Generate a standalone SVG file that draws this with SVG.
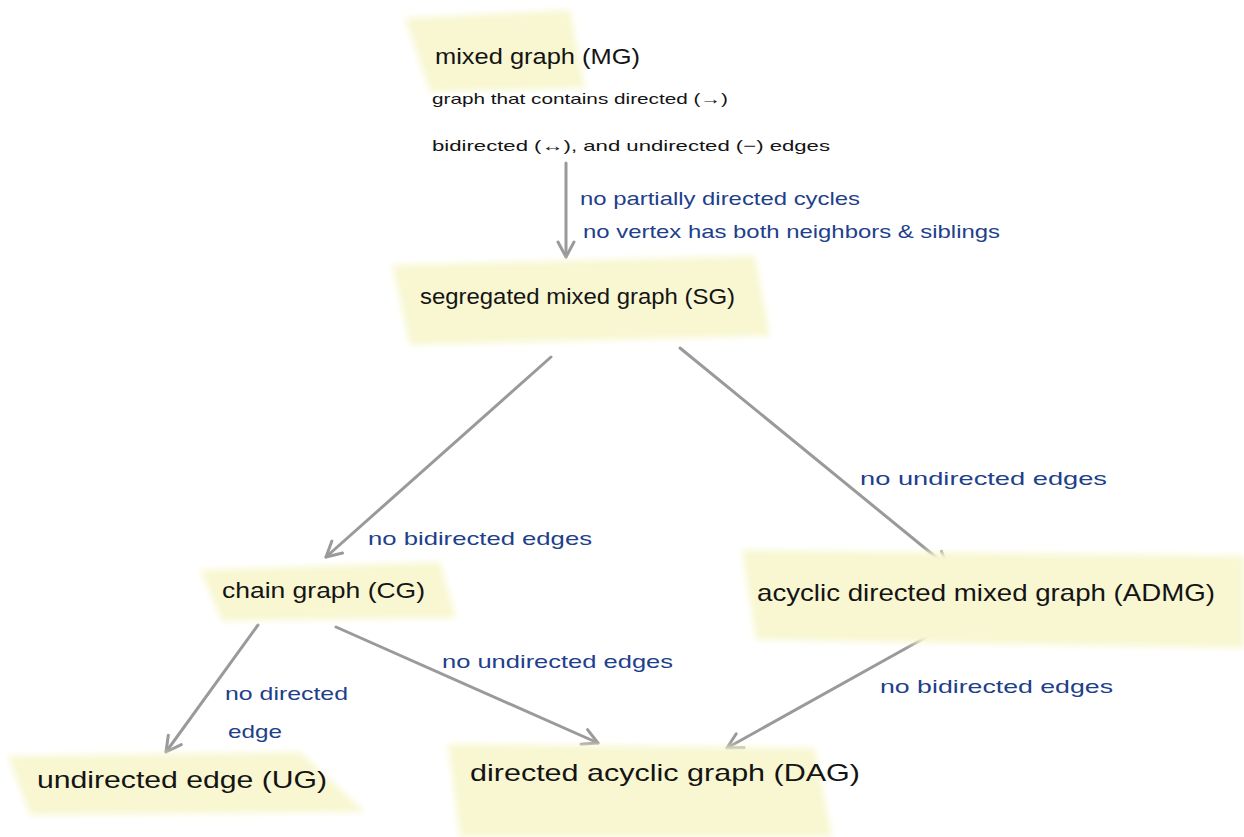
<svg xmlns="http://www.w3.org/2000/svg" width="1244" height="837" viewBox="0 0 1244 837">
<defs>
<filter id="soft" x="-10%" y="-20%" width="120%" height="140%"><feGaussianBlur stdDeviation="3"/></filter>
<marker id="chev" viewBox="0 0 20 20" refX="18" refY="10" markerWidth="20" markerHeight="20" markerUnits="userSpaceOnUse" orient="auto">
<path d="M3,2 L18,10 L3,18" fill="none" stroke="#9a9a9a" stroke-width="3" stroke-linecap="round" stroke-linejoin="round"/>
</marker>
</defs>
<style>
.hl{fill:#f8f7d2;filter:url(#soft)}
.nt{font-family:"Liberation Sans",Arial,sans-serif;fill:#141414}
.lb{font-family:"Liberation Sans",Arial,sans-serif;fill:#213f8a;font-size:19px}
.edge{stroke:#9a9a9a;stroke-width:3;fill:none;stroke-linecap:round;marker-end:url(#chev)}
</style>
<rect width="1244" height="837" fill="#ffffff"/>
<g id="connectors">
<line class="edge" x1="566" y1="163" x2="566" y2="257"/>
<line class="edge" x1="551" y1="357" x2="326" y2="557"/>
<line class="edge" x1="680" y1="348" x2="948" y2="567"/>
<line class="edge" x1="258" y1="625" x2="166" y2="752"/>
<line class="edge" x1="336" y1="627" x2="598" y2="743"/>
<line class="edge" x1="928" y1="636" x2="727" y2="748"/>
<text class="lb" x="580" y="205" textLength="280" lengthAdjust="spacingAndGlyphs">no partially directed cycles</text>
<text class="lb" x="583" y="238" textLength="417" lengthAdjust="spacingAndGlyphs">no vertex has both neighbors &amp; siblings</text>
<text class="lb" x="368" y="545" textLength="224" lengthAdjust="spacingAndGlyphs">no bidirected edges</text>
<text class="lb" x="860" y="485" textLength="247" lengthAdjust="spacingAndGlyphs">no undirected edges</text>
<text class="lb" x="225" y="700" textLength="123" lengthAdjust="spacingAndGlyphs">no directed</text>
<text class="lb" x="228" y="738" textLength="54" lengthAdjust="spacingAndGlyphs">edge</text>
<text class="lb" x="442" y="668" textLength="231" lengthAdjust="spacingAndGlyphs">no undirected edges</text>
<text class="lb" x="880" y="693" textLength="233" lengthAdjust="spacingAndGlyphs">no bidirected edges</text>
</g>
<g id="node-mg">
<polygon class="hl" points="405,18 570,10 585,88 430,92"/>
<text class="nt" x="435" y="64" font-size="22" textLength="205" lengthAdjust="spacingAndGlyphs">mixed graph (MG)</text>
<text class="nt" x="432" y="104" font-size="15" textLength="296" lengthAdjust="spacingAndGlyphs">graph that contains directed (→)</text>
<text class="nt" x="432" y="151" font-size="15" textLength="398" lengthAdjust="spacingAndGlyphs">bidirected (↔), and undirected (−) edges</text>
</g>
<g id="node-sg">
<polygon class="hl" points="392,265 755,256 770,336 410,345"/>
<text class="nt" x="420" y="304" font-size="22" textLength="315" lengthAdjust="spacingAndGlyphs">segregated mixed graph (SG)</text>
</g>
<g id="node-cg">
<polygon class="hl" points="200,570 440,562 456,618 222,621"/>
<text class="nt" x="222" y="598" font-size="22" textLength="203" lengthAdjust="spacingAndGlyphs">chain graph (CG)</text>
</g>
<g id="node-admg">
<polygon class="hl" points="742,550 1244,556 1244,648 756,640"/>
<text class="nt" x="757" y="601" font-size="24" textLength="458" lengthAdjust="spacingAndGlyphs">acyclic directed mixed graph (ADMG)</text>
</g>
<g id="node-ug">
<polygon class="hl" points="8,756 300,752 365,812 30,815"/>
<text class="nt" x="37" y="788" font-size="24" textLength="290" lengthAdjust="spacingAndGlyphs">undirected edge (UG)</text>
</g>
<g id="node-dag">
<polygon class="hl" points="448,744 815,748 832,837 460,837"/>
<text class="nt" x="470" y="781" font-size="24" textLength="390" lengthAdjust="spacingAndGlyphs">directed acyclic graph (DAG)</text>
</g>
</svg>
